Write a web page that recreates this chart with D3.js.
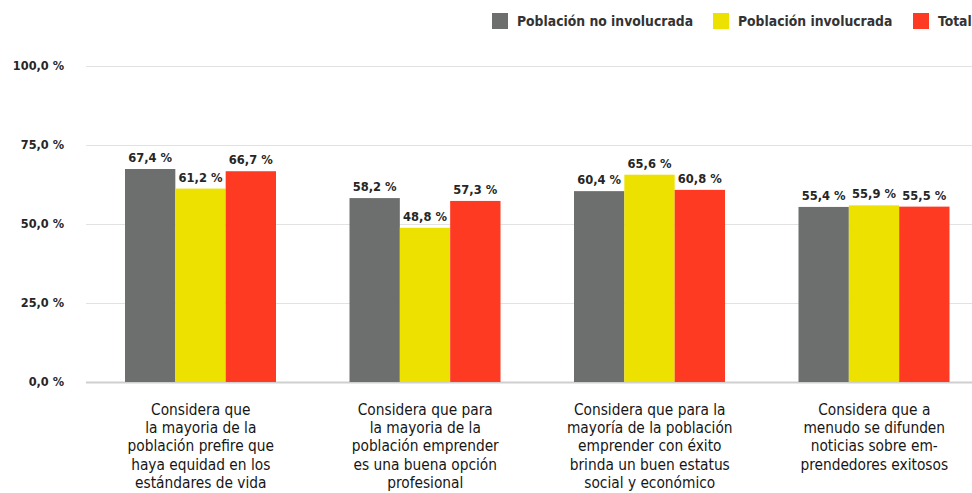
<!DOCTYPE html>
<html>
<head>
<meta charset="utf-8">
<script src="https://cdn.jsdelivr.net/npm/d3@7"></script>
<style>
  body { margin: 0; background: #fff; }
  svg text { font-family: "DejaVu Sans Condensed", "DejaVu Sans", sans-serif; fill: #262626; }
</style>
</head>
<body>
<div class="chart"></div>
<script>
var categories = [
  ["Considera que", "la mayoria de la", "población prefire que", "haya equidad en los", "estándares de vida"],
  ["Considera que para", "la mayoria de la", "población emprender", "es una buena opción", "profesional"],
  ["Considera que para la", "mayoría de la población", "emprender con éxito", "brinda un buen estatus", "social y económico"],
  ["Considera que a", "menudo se difunden", "noticias sobre em-", "prendedores exitosos"]
];
var series = ["Población no involucrada", "Población involucrada", "Total"];
var noInvolucrada = [67.4, 58.2, 60.4, 55.4];
var involucrada = [61.2, 48.8, 65.6, 55.9];
var total = [66.7, 57.3, 60.8, 55.5];
var yTicks = [0, 25, 50, 75, 100];
var colors = ["#6c6f6e", "#ede100", "#fe3a22"];

var width = 972, height = 493;
var svg = d3.select(".chart").append("svg")
  .attr("width", width)
  .attr("height", height);

var values = [noInvolucrada, involucrada, total];
var groups = categories.map(function(c, i) { return i; });

var x0 = d3.scaleBand().domain(groups).range([88, 986]).padding(0);
var x1 = d3.scaleBand().domain(d3.range(series.length)).range([37, 188]).padding(0);
var y = d3.scaleLinear().domain([0, 100]).range([382, 66]);

var fmt = function(v) { return d3.format(".1f")(v).replace(".", ",") + " %"; };

// gridlines
svg.append("g")
  .selectAll("line")
  .data(yTicks)
  .enter()
  .append("line")
  .attr("x1", 86)
  .attr("x2", width)
  .attr("y1", function(d) { return Math.round(y(d)) + 0.5; })
  .attr("y2", function(d) { return Math.round(y(d)) + 0.5; })
  .attr("stroke", function(d) { return d === 0 ? "#cfcfcf" : "#e2e2e2"; })
  .attr("stroke-width", function(d) { return d === 0 ? 2 : 1; });

// y labels
svg.append("g")
  .selectAll("text")
  .data(yTicks)
  .enter()
  .append("text")
  .attr("x", 64)
  .attr("y", function(d) { return y(d) + 4; })
  .attr("text-anchor", "end")
  .style("font-size", "12.6px")
  .style("font-weight", "bold")
  .text(fmt);

// bars
var g = svg.append("g")
  .selectAll("g")
  .data(groups)
  .enter()
  .append("g")
  .attr("transform", function(d) { return "translate(" + x0(d) + ",0)"; });

g.selectAll("rect")
  .data(function(i) { return values.map(function(s, k) { return {k: k, v: s[i]}; }); })
  .enter()
  .append("rect")
  .attr("x", function(d) { return x1(d.k); })
  .attr("width", x1.bandwidth())
  .attr("y", function(d) { return y(d.v); })
  .attr("height", function(d) { return y(0) - y(d.v); })
  .attr("fill", function(d) { return colors[d.k]; });

g.selectAll("text.val")
  .data(function(i) { return values.map(function(s, k) { return {k: k, v: s[i]}; }); })
  .enter()
  .append("text")
  .attr("class", "val")
  .attr("x", function(d) { return x1(d.k) + x1.bandwidth() / 2; })
  .attr("y", function(d) { return y(d.v) - 7; })
  .attr("text-anchor", "middle")
  .style("font-size", "12.8px")
  .style("font-weight", "bold")
  .text(function(d) { return fmt(d.v); });

// category labels
g.append("text")
  .attr("x", x0.bandwidth() / 2 + 0.5)
  .attr("y", 415)
  .attr("text-anchor", "middle")
  .style("font-size", "15.3px")
  .style("fill", "#161616")
  .selectAll("tspan")
  .data(function(i) { return categories[i]; })
  .enter()
  .append("tspan")
  .attr("x", x0.bandwidth() / 2 + 0.5)
  .attr("dy", function(d, j) { return j === 0 ? 0 : 18.2; })
  .text(function(d) { return d; });

// legend
var legendX = [492, 713, 913];
var legend = svg.append("g")
  .selectAll("g")
  .data(series)
  .enter()
  .append("g")
  .attr("transform", function(d, i) { return "translate(" + legendX[i] + ",13)"; });

legend.append("rect")
  .attr("width", 16)
  .attr("height", 16)
  .attr("fill", function(d, i) { return colors[i]; });

legend.append("text")
  .attr("x", 25)
  .attr("y", 13)
  .style("font-size", "13.8px")
  .style("font-weight", "bold")
  .style("fill", "#333")
  .text(function(d) { return d; });
</script>
</body>
</html>
